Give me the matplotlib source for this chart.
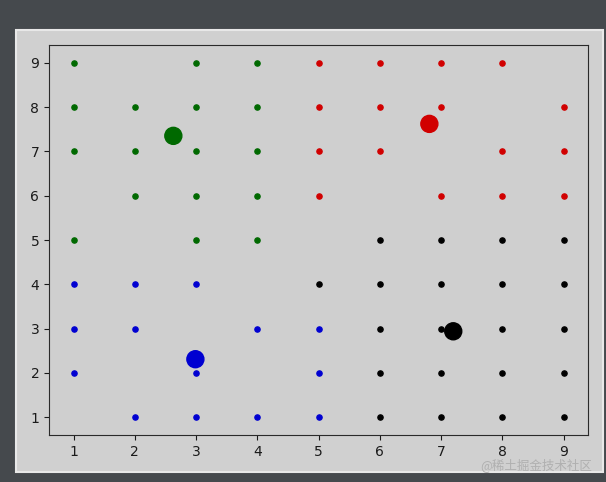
import matplotlib
matplotlib.use("Agg")
import matplotlib.pyplot as plt
from matplotlib.patches import Rectangle

# cluster points
green_x = [1, 3, 4, 1, 2, 3, 4, 1, 2, 3, 4, 2, 3, 4, 1, 3, 4]
green_y = [9, 9, 9, 8, 8, 8, 8, 7, 7, 7, 7, 6, 6, 6, 5, 5, 5]
red_x = [5, 6, 7, 8, 5, 6, 7, 9, 5, 6, 8, 9, 5, 7, 8, 9]
red_y = [9, 9, 9, 9, 8, 8, 8, 8, 7, 7, 7, 7, 6, 6, 6, 6]
black_x = [6, 7, 8, 9, 5, 6, 7, 8, 9, 6, 7, 8, 9, 6, 7, 8, 9, 6, 7, 8, 9]
black_y = [5, 5, 5, 5, 4, 4, 4, 4, 4, 3, 3, 3, 3, 2, 2, 2, 2, 1, 1, 1, 1]
blue_x = [1, 2, 3, 1, 2, 4, 5, 1, 3, 5, 2, 3, 4, 5]
blue_y = [4, 4, 4, 3, 3, 3, 3, 2, 2, 2, 1, 1, 1, 1]

# centroids
cent_x = [2.63, 6.81, 7.20, 2.99]
cent_y = [7.35, 7.62, 2.94, 2.31]
cent_colors = ["#006900", "#d10000", "#000000", "#0000d1"]

fig = plt.figure(figsize=(6.06, 4.82), dpi=100)
fig.patch.set_facecolor("#45494d")
W, H = 606, 482
fig.patches.append(Rectangle((16 / W, 1 - 472 / H), (603 - 16) / W, (472 - 30) / H,
                             transform=fig.transFigure, facecolor="#d0d0d0",
                             edgecolor="#e8e8e8", linewidth=1.5, zorder=-10))

ax = fig.add_axes([49 / W, 1 - 435 / H, (588 - 49) / W, (435 - 45) / H])
ax.set_zorder(1)
ax.set_facecolor("#cfcfcf")
for sp in ax.spines.values():
    sp.set_color("#2a2a2a")

s_small = 14
ax.scatter(green_x, green_y, s=s_small, c="#006900")
ax.scatter(red_x, red_y, s=s_small, c="#d10000")
ax.scatter(black_x, black_y, s=s_small, c="#000000")
ax.scatter(blue_x, blue_y, s=s_small, c="#0000d1")
ax.scatter(cent_x, cent_y, s=150, c=cent_colors)

ax.set_xticks(range(1, 10))
ax.set_yticks(range(1, 10))
ax.tick_params(colors="#1a1a1a", labelsize=10)
ax.set_xlim(0.6, 9.4)
ax.set_ylim(0.6, 9.4)

fig.text(592 / W, 1 - 465 / H, "@稀土掘金技术社区", ha="right", va="center",
         fontsize=9, color="#b0b0b0", family="Noto Sans CJK SC", zorder=5)

fig.savefig("out.png", dpi=100, facecolor=fig.get_facecolor())
